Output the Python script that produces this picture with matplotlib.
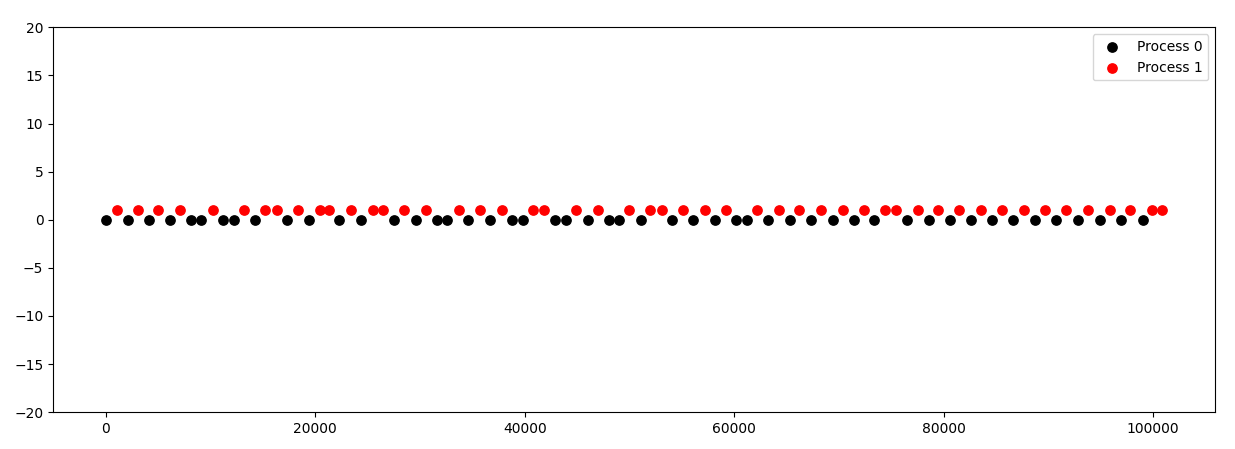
import matplotlib
matplotlib.use("Agg")
import matplotlib.pyplot as plt

# times at which each process acted
p0_times = [0, 2100, 4100, 6100, 8100, 9100, 11200, 12200, 14200, 17300,
            19400, 22300, 24400, 27500, 29600, 31600, 32600, 34600, 36700, 38800,
            39800, 42900, 43900, 46000, 48000, 49000, 51100, 54100, 56100, 58200,
            60200, 61200, 63200, 65300, 67300, 69400, 71400, 73400, 76500, 78600,
            80600, 82600, 84600, 86600, 88700, 90700, 92800, 94900, 96900, 99000]
p1_times = [1100, 3100, 5000, 7100, 10200, 13200, 15200, 16300, 18300, 20400,
            21300, 23400, 25500, 26500, 28500, 30600, 33700, 35700, 37800, 40800,
            41800, 44900, 47000, 50000, 52000, 53100, 55100, 57200, 59200, 62200,
            64300, 66200, 68300, 70400, 72400, 74400, 75500, 77600, 79500, 81500,
            83600, 85600, 87700, 89700, 91700, 93800, 95900, 97800, 99900, 100900]
p0_ids = [0] * len(p0_times)
p1_ids = [1] * len(p1_times)

fig, ax = plt.subplots(figsize=(12.35, 4.49), dpi=100)

ax.scatter(p0_times, p0_ids, color='black', s=45, label='Process 0')
ax.scatter(p1_times, p1_ids, color='red', s=45, label='Process 1')

ax.set_ylim(-20, 20)
ax.legend(loc='upper right')

fig.subplots_adjust(left=0.043, right=0.984, bottom=0.082, top=0.939)
fig.savefig('out.png', dpi=100)
